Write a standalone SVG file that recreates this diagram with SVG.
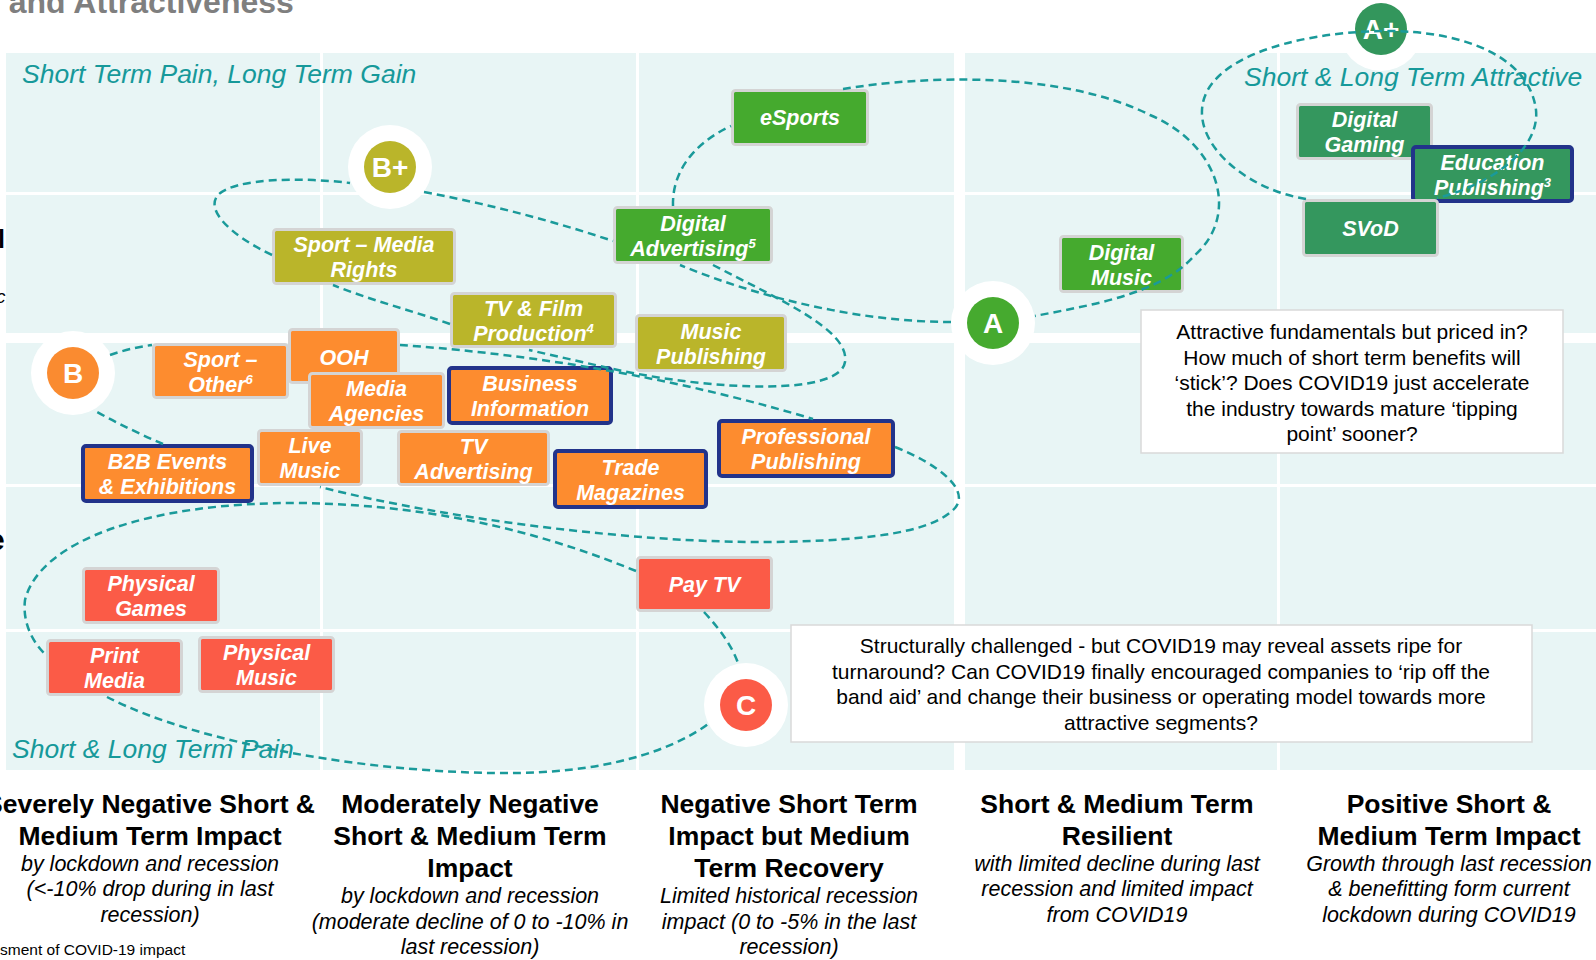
<svg xmlns="http://www.w3.org/2000/svg" width="1596" height="960" viewBox="0 0 1596 960">
  <defs>
    <style>
      .ff { font-family: "Liberation Sans", Arial, sans-serif; }
      .title { font: bold 32px "Liberation Sans", Arial, sans-serif; fill: #7F7F7F; }
      .panel { fill: #E8F5F5; }
      .grid { fill: #FFFFFF; }
      .quad { font: italic 26.5px "Liberation Sans", Arial, sans-serif; fill: #16999A; }
      .node rect { stroke: #D4D4D4; stroke-width: 3; }
      .node.nv rect { stroke: #22338A; stroke-width: 4; }
      .node text { font: bold italic 21.5px "Liberation Sans", Arial, sans-serif; fill: #FFFFFF; text-anchor: middle; }
      .node text .sup { font-size: 13px; }
      .olive rect { fill: #BAB52A; }
      .grn rect { fill: #45AA2E; }
      .dgrn rect { fill: #34975E; }
      .org rect { fill: #FD8C2F; }
      .red rect { fill: #FB5B47; }
      .halo { fill: #FFFFFF; }
      .badge text { font: bold 28px "Liberation Sans", Arial, sans-serif; fill: #FFFFFF; text-anchor: middle; }
      .conn path { fill: none; stroke: #1A9A9A; stroke-width: 2.5; stroke-dasharray: 8 5; }
      .note rect { fill: #FFFFFF; stroke: #D9D9D9; stroke-width: 1.5; }
      .note text { font: 21px "Liberation Sans", Arial, sans-serif; fill: #000000; text-anchor: middle; }
      .hd { font: bold 26.5px "Liberation Sans", Arial, sans-serif; fill: #000000; text-anchor: middle; }
      .sub { font: italic 21.5px "Liberation Sans", Arial, sans-serif; fill: #000000; text-anchor: middle; }
    </style>
  </defs>

  <rect x="0" y="0" width="1596" height="960" fill="#FFFFFF"/>

  <!-- page title (cut at the top edge) -->
  <text class="title" x="-18" y="13">e and Attractiveness</text>

  <!-- axis label fragments at the left edge -->
  <text class="ff" x="-2" y="248" font-size="25" font-weight="bold" fill="#000">l</text>
  <text class="ff" x="-4" y="303" font-size="19" font-style="italic" fill="#000">c</text>
  <text class="ff" x="-12" y="550" font-size="30" font-weight="bold" fill="#000">e</text>

  <!-- matrix background: 5 columns x 5 rows -->
  <g id="matrix">
    <rect class="panel" x="6" y="53" width="1590" height="717"/>
    <rect class="grid" x="320" y="53" width="3" height="717"/>
    <rect class="grid" x="636" y="53" width="3" height="717"/>
    <rect class="grid" x="954" y="53" width="11" height="717"/>
    <rect class="grid" x="1277" y="53" width="3" height="717"/>
    <rect class="grid" x="6" y="192" width="1590" height="3"/>
    <rect class="grid" x="6" y="333" width="1590" height="10"/>
    <rect class="grid" x="6" y="484" width="1590" height="3"/>
    <rect class="grid" x="6" y="629" width="1590" height="3"/>
  </g>

  <!-- quadrant captions -->
  <text class="quad" x="22" y="83">Short Term Pain, Long Term Gain</text>
  <text class="quad" x="1244" y="86">Short &amp; Long Term Attractive</text>
  <text class="quad" x="12" y="758">Short &amp; Long Term Pain</text>

  <!-- segment boxes -->
  <g id="n-esports" class="node grn">
    <rect x="732.5" y="90.5" width="135" height="54" rx="3"/>
    <text x="800" y="125">eSports</text>
  </g>
  <g id="n-digital-advertising" class="node grn">
    <rect x="614.5" y="207.5" width="157" height="55" rx="3"/>
    <text x="693" y="230.5">Digital</text>
    <text x="693" y="255.5">Advertising<tspan class="sup" dy="-8">5</tspan></text>
  </g>
  <g id="n-digital-music" class="node grn">
    <rect x="1060.5" y="236.5" width="122" height="55" rx="3"/>
    <text x="1121.5" y="259.5">Digital</text>
    <text x="1121.5" y="284.5">Music</text>
  </g>
  <g id="n-digital-gaming" class="node dgrn">
    <rect x="1297.5" y="104.5" width="134" height="54" rx="3"/>
    <text x="1364.5" y="127">Digital</text>
    <text x="1364.5" y="152">Gaming</text>
  </g>
  <g id="n-education-publishing" class="node dgrn nv">
    <rect x="1413" y="147" width="159" height="54" rx="3"/>
    <text x="1492.5" y="169.5">Education</text>
    <text x="1492.5" y="194.5">Publishing<tspan class="sup" dy="-8">3</tspan></text>
  </g>
  <g id="n-svod" class="node dgrn">
    <rect x="1303.5" y="200.5" width="134" height="55" rx="3"/>
    <text x="1370.5" y="235.5">SVoD</text>
  </g>
  <g id="n-sport-media-rights" class="node olive">
    <rect x="273.5" y="229.5" width="181" height="54" rx="3"/>
    <text x="364" y="252">Sport – Media</text>
    <text x="364" y="277">Rights</text>
  </g>
  <g id="n-tv-film-production" class="node olive">
    <rect x="451.5" y="293.5" width="164" height="53" rx="3"/>
    <text x="533.5" y="315.5">TV &amp; Film</text>
    <text x="533.5" y="340.5">Production<tspan class="sup" dy="-8">4</tspan></text>
  </g>
  <g id="n-music-publishing" class="node olive">
    <rect x="636.5" y="315.5" width="149" height="55" rx="3"/>
    <text x="711" y="339">Music</text>
    <text x="711" y="364">Publishing</text>
  </g>
  <g id="n-sport-other" class="node org">
    <rect x="153.5" y="344.5" width="134" height="53" rx="3"/>
    <text x="220.5" y="367">Sport –</text>
    <text x="220.5" y="391.5">Other<tspan class="sup" dy="-8">6</tspan></text>
  </g>
  <g id="n-ooh" class="node org">
    <rect x="289.5" y="329.5" width="109" height="53" rx="3"/>
    <text x="344" y="364.5">OOH</text>
  </g>
  <g id="n-media-agencies" class="node org">
    <rect x="309.5" y="373.5" width="134" height="54" rx="3"/>
    <text x="376.5" y="396">Media</text>
    <text x="376.5" y="421">Agencies</text>
  </g>
  <g id="n-business-information" class="node org nv">
    <rect x="449" y="368" width="162" height="55" rx="3"/>
    <text x="530" y="390.5">Business</text>
    <text x="530" y="415.5">Information</text>
  </g>
  <g id="n-b2b-events" class="node org nv">
    <rect x="83" y="446" width="169" height="55" rx="3"/>
    <text x="167.5" y="469">B2B Events</text>
    <text x="167.5" y="494">&amp; Exhibitions</text>
  </g>
  <g id="n-live-music" class="node org">
    <rect x="258.5" y="430.5" width="103" height="54" rx="3"/>
    <text x="310" y="453">Live</text>
    <text x="310" y="478">Music</text>
  </g>
  <g id="n-tv-advertising" class="node org">
    <rect x="398.5" y="431.5" width="150" height="53" rx="3"/>
    <text x="473.5" y="453.5">TV</text>
    <text x="473.5" y="478.5">Advertising</text>
  </g>
  <g id="n-trade-magazines" class="node org nv">
    <rect x="555" y="451" width="151" height="56" rx="3"/>
    <text x="630.5" y="474.5">Trade</text>
    <text x="630.5" y="500">Magazines</text>
  </g>
  <g id="n-professional-publishing" class="node org nv">
    <rect x="719" y="421" width="174" height="55" rx="3"/>
    <text x="806" y="444">Professional</text>
    <text x="806" y="469">Publishing</text>
  </g>
  <g id="n-pay-tv" class="node red">
    <rect x="637.5" y="557.5" width="134" height="53" rx="3"/>
    <text x="704.5" y="592">Pay TV</text>
  </g>
  <g id="n-physical-games" class="node red">
    <rect x="83.5" y="568.5" width="135" height="54" rx="3"/>
    <text x="151" y="591">Physical</text>
    <text x="151" y="616">Games</text>
  </g>
  <g id="n-print-media" class="node red">
    <rect x="47.5" y="640.5" width="134" height="54" rx="3"/>
    <text x="114.5" y="663">Print</text>
    <text x="114.5" y="687.5">Media</text>
  </g>
  <g id="n-physical-music" class="node red">
    <rect x="199.5" y="637.5" width="134" height="54" rx="3"/>
    <text x="266.5" y="660">Physical</text>
    <text x="266.5" y="685">Music</text>
  </g>

  <!-- grade badges -->
  <g id="g-a-plus" class="badge">
    <circle class="halo" cx="1381" cy="29" r="42"/>
    <circle cx="1381" cy="29" r="26" fill="#33965C"/>
    <text x="1381" y="39">A+</text>
  </g>
  <g id="g-a" class="badge">
    <circle class="halo" cx="993" cy="323" r="42"/>
    <circle cx="993" cy="323" r="26" fill="#46AA2F"/>
    <text x="993" y="333">A</text>
  </g>
  <g id="g-b-plus" class="badge">
    <circle class="halo" cx="390" cy="167" r="42"/>
    <circle cx="390" cy="167" r="26" fill="#BAB52A"/>
    <text x="390" y="177">B+</text>
  </g>
  <g id="g-b" class="badge">
    <circle class="halo" cx="73" cy="373" r="42"/>
    <circle cx="73" cy="373" r="26" fill="#FA8B30"/>
    <text x="73" y="383">B</text>
  </g>
  <g id="g-c" class="badge">
    <circle class="halo" cx="746" cy="705" r="42"/>
    <circle cx="746" cy="705" r="26" fill="#FB5B47"/>
    <text x="746" y="715">C</text>
  </g>

  <!-- dashed grade boundaries -->
  <g id="connectors" class="conn">
    <!-- A+ -->
    <path d="M 1306 199 C 1250 190, 1200 150, 1202 110 C 1204 60, 1290 33, 1381 31 C 1470 30, 1530 60, 1536 110 C 1540 150, 1490 185, 1437 198"/>
    <!-- A -->
    <path d="M 951 322 C 860 322, 760 298, 680 265"/>
    <path d="M 673 206 C 672 175, 690 145, 731 126"/>
    <path d="M 843 89 C 920 76, 1060 70, 1150 115 C 1220 145, 1240 215, 1195 255 C 1160 295, 1090 305, 1035 316"/>
    <!-- B+ -->
    <path d="M 424 192 Q 520 210 613 241"/>
    <path d="M 713 265 C 780 300, 850 330, 845 362 C 840 395, 720 392, 613 369 L 529 350"/>
    <path d="M 450 324 C 410 310, 370 300, 333 285"/>
    <path d="M 272 255 C 230 235, 205 210, 218 195 C 235 178, 300 177, 350 183"/>
    <!-- B -->
    <path d="M 110 355 Q 130 348 152 345"/>
    <path d="M 400 345 C 500 352, 650 370, 813 419"/>
    <path d="M 895 447 C 940 465, 970 490, 955 508 C 935 530, 880 541, 767 542 C 640 543, 450 520, 320 487"/>
    <path d="M 163 444 Q 130 430 97 412"/>
    <!-- C -->
    <path d="M 704 612 Q 730 640 738 663"/>
    <path d="M 636 571 C 560 540, 450 505, 300 503 C 150 502, 40 540, 25 600 C 22 625, 35 645, 46 655"/>
    <path d="M 107 697 C 200 745, 380 775, 520 773 C 620 771, 680 745, 708 724"/>
  </g>

  <!-- commentary boxes -->
  <g id="note-attractive" class="note">
    <rect x="1141" y="310" width="422" height="143"/>
    <text x="1352" y="339">Attractive fundamentals but priced in?</text>
    <text x="1352" y="364.5">How much of short term benefits will</text>
    <text x="1352" y="390">‘stick’? Does COVID19 just accelerate</text>
    <text x="1352" y="415.5">the industry towards mature ‘tipping</text>
    <text x="1352" y="441">point’ sooner?</text>
  </g>
  <g id="note-challenged" class="note">
    <rect x="791" y="625" width="741" height="117"/>
    <text x="1161" y="653">Structurally challenged - but COVID19 may reveal assets ripe for</text>
    <text x="1161" y="678.5">turnaround? Can COVID19 finally encouraged companies to ‘rip off the</text>
    <text x="1161" y="704">band aid’ and change their business or operating model towards more</text>
    <text x="1161" y="729.5">attractive segments?</text>
  </g>

  <!-- column headings -->
  <g id="col-1">
    <text class="hd" x="150" y="812.5">Severely Negative Short &amp;</text>
    <text class="hd" x="150" y="844.5">Medium Term Impact</text>
    <text class="sub" x="150" y="870.5">by lockdown and recession</text>
    <text class="sub" x="150" y="896">(&lt;-10% drop during in last</text>
    <text class="sub" x="150" y="921.5">recession)</text>
  </g>
  <g id="col-2">
    <text class="hd" x="470" y="812.5">Moderately Negative</text>
    <text class="hd" x="470" y="844.5">Short &amp; Medium Term</text>
    <text class="hd" x="470" y="876.5">Impact</text>
    <text class="sub" x="470" y="903">by lockdown and recession</text>
    <text class="sub" x="470" y="928.5">(moderate decline of 0 to -10% in</text>
    <text class="sub" x="470" y="954">last recession)</text>
  </g>
  <g id="col-3">
    <text class="hd" x="789" y="812.5">Negative Short Term</text>
    <text class="hd" x="789" y="844.5">Impact but Medium</text>
    <text class="hd" x="789" y="876.5">Term Recovery</text>
    <text class="sub" x="789" y="903">Limited historical recession</text>
    <text class="sub" x="789" y="928.5">impact (0 to -5% in the last</text>
    <text class="sub" x="789" y="954">recession)</text>
  </g>
  <g id="col-4">
    <text class="hd" x="1117" y="812.5">Short &amp; Medium Term</text>
    <text class="hd" x="1117" y="844.5">Resilient</text>
    <text class="sub" x="1117" y="870.5">with limited decline during last</text>
    <text class="sub" x="1117" y="896">recession and limited impact</text>
    <text class="sub" x="1117" y="921.5">from COVID19</text>
  </g>
  <g id="col-5">
    <text class="hd" x="1449" y="812.5">Positive Short &amp;</text>
    <text class="hd" x="1449" y="844.5">Medium Term Impact</text>
    <text class="sub" x="1449" y="870.5">Growth through last recession</text>
    <text class="sub" x="1449" y="896">&amp; benefitting form current</text>
    <text class="sub" x="1449" y="921.5">lockdown during COVID19</text>
  </g>

  <!-- source line -->
  <text class="ff" x="0" y="955" font-size="15.5" fill="#000">sment of COVID-19 impact</text>
</svg>
